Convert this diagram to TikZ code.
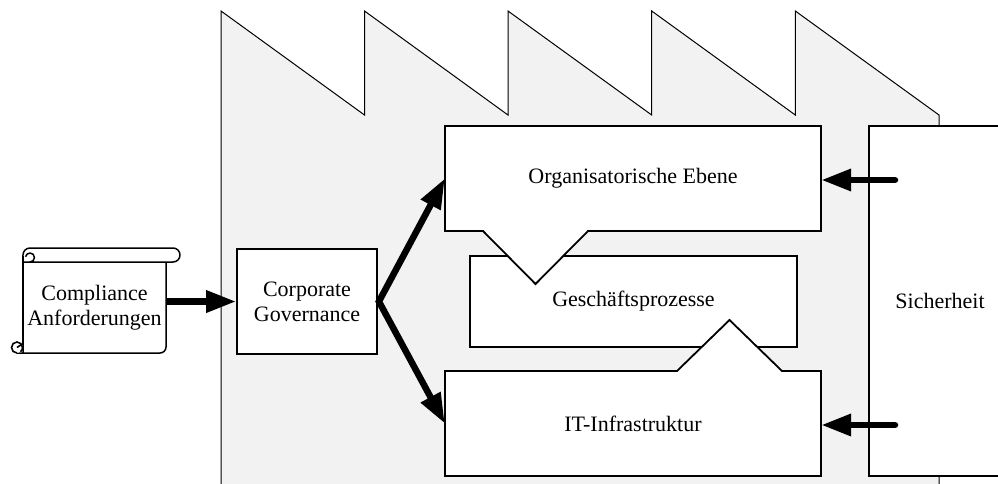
\documentclass[tikz,border=0pt]{standalone}
\usepackage{fontspec}
\setmainfont{Liberation Serif}
\usetikzlibrary{arrows.meta}
\definecolor{plant}{HTML}{F2F2F2}
\begin{document}
\begin{tikzpicture}[x=1pt,y=-1pt,
  every node/.style={font=\fontsize{22}{25}\selectfont, align=center, inner sep=0pt},
  box/.style={draw, line width=1.8pt, fill=white},
  thin/.style={draw, line width=1.5pt, fill=white, line join=round},
  bigarrow/.style={line width=6.5pt, -{Triangle[length=30pt,width=21pt]}},
  forkarrow/.style={line width=6.5pt, line join=miter,
    {Triangle[length=30pt,width=21pt]}-{Triangle[length=30pt,width=21pt]}},
]
\useasboundingbox (0,0) rectangle (998,483);
\clip (0,0) rectangle (998,483);

% saw-tooth factory outline
\draw[fill=plant, line width=1pt, line join=miter]
  (221,495) -- (221,11) -- (364.5,115) -- (364.5,11) -- (508,115) -- (508,11)
  -- (651.7,115) -- (651.7,11) -- (795.3,115) -- (795.3,11) -- (939,115) -- (939,495);

% middle layer
\node[box, minimum width=327pt, minimum height=91pt] (gp) at (633.5,301.5) {Geschäftsprozesse};

% upper layer with pointer downwards
\draw[box, line join=miter] (445,126) -- (821,126) -- (821,231) -- (588,231) -- (535.5,284)
  -- (483,231) -- (445,231) -- cycle;
\node[minimum width=376pt, minimum height=105pt] (org) at (633,178.5) {Organisatorische Ebene};

% lower layer with pointer upwards
\draw[box, line join=miter] (445,371) -- (677,371) -- (729.5,320) -- (782,371) -- (821,371)
  -- (821,476) -- (445,476) -- cycle;
\node[minimum width=376pt, minimum height=105pt] (it) at (633,423.5) {IT-Infrastruktur};

% governance and security
\node[box, minimum width=140pt, minimum height=105pt] (cg) at (307,301.5) {Corporate\\Governance};
\node[box, minimum width=142pt, minimum height=350pt] (sec) at (940,301) {Sicherheit};

% scroll with requirements
\draw[thin] (166,262) -- (166,347) arc[start angle=0, end angle=90, radius=6] -- (17,353)
  -- (23,353) -- (23,262) -- cycle;
\draw[line width=1.6pt, fill=white] (17,353) arc[start angle=90, end angle=410, radius=5.5];
\draw[line width=1.6pt] (21.5,344.5) -- (17,347.5);
\draw[line width=1.5pt] (23,345) -- (23,255);
\draw[thin] (23,255) arc[start angle=180, end angle=270, radius=7] -- (173,248)
  arc[start angle=270, end angle=450, radius=7] -- (30,262)
  arc[start angle=90, end angle=-170, radius=4.5];
\node[minimum width=143pt, minimum height=91pt] (req) at (94.5,307.5) {Compliance\\Anforderungen};

% connectors
\draw[bigarrow] (req.east |- cg.west) -- (cg.west);
\coordinate (fork) at ([xshift=1pt]cg.east);
\draw[forkarrow] (org.west) -- (fork) -- (it.west);
\coordinate (s1) at (895,180);
\coordinate (s2) at (895,425);
\draw[bigarrow, line cap=round] (s1) -- (s1 -| org.east);
\draw[bigarrow, line cap=round] (s2) -- (s2 -| it.east);
\end{tikzpicture}
\end{document}
